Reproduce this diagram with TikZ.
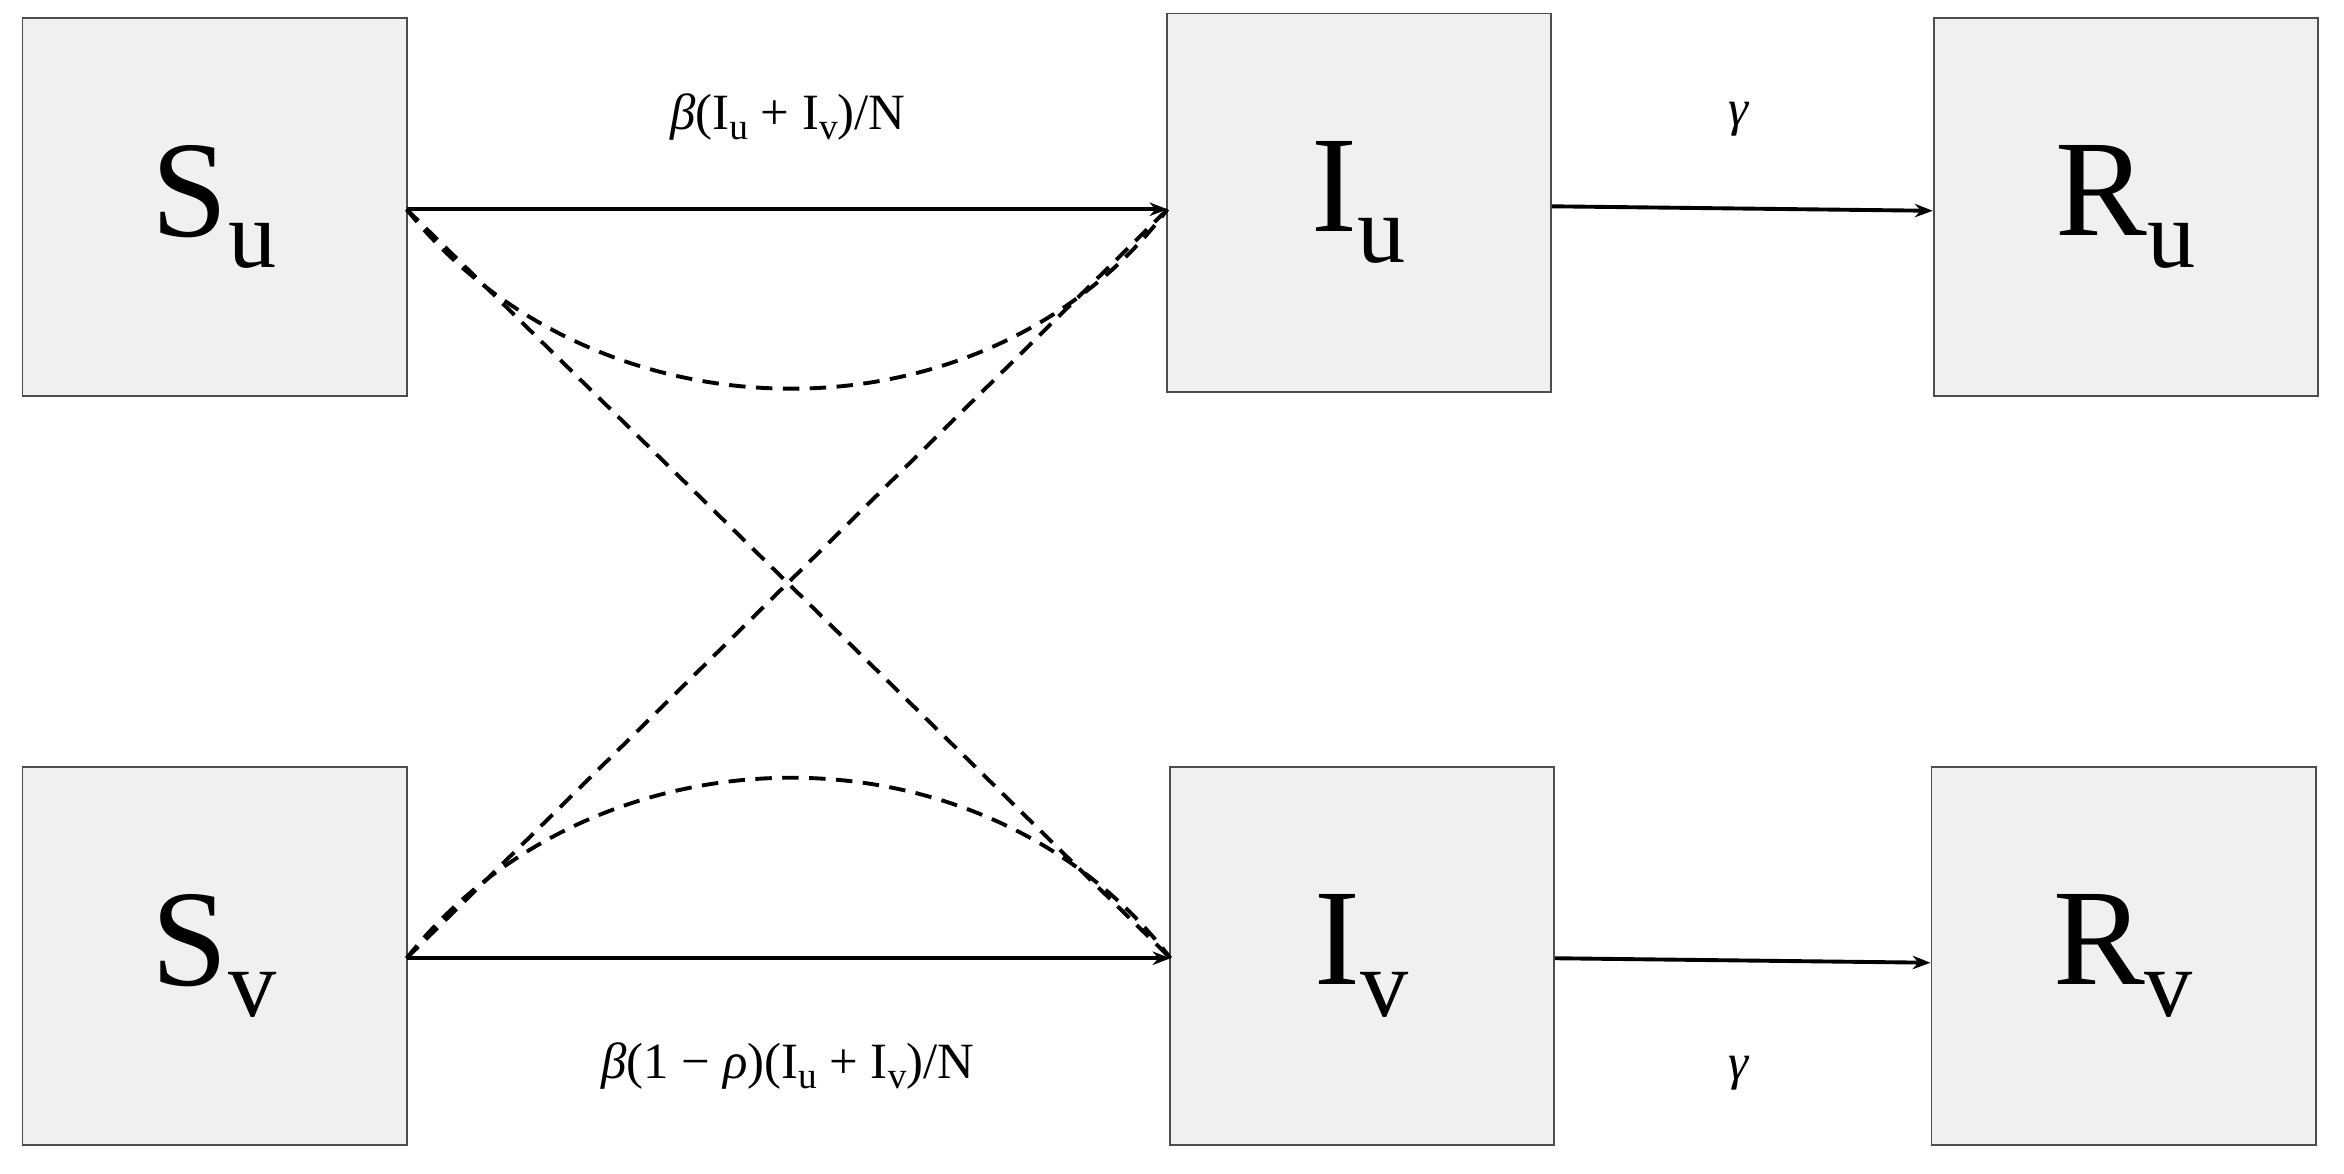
\documentclass[tikz,border=0pt]{standalone}
\usepackage{fontspec}
\setmainfont{Liberation Serif}
\usetikzlibrary{arrows.meta}
\newcommand{\sbx}[1]{\raisebox{-0.2em}{\fontsize{25}{28}\selectfont #1}}
\begin{document}
\begin{tikzpicture}[x=1pt,y=-1pt,
 box/.style={draw=black!70,line width=1.2pt,fill=black!6,minimum width=257pt,minimum height=253pt,inner sep=0pt,font=\fontsize{92}{100}\selectfont},
 lab/.style={font=\fontsize{34}{38}\selectfont},
 arr/.style={line width=2.6pt,-{Stealth[length=12pt,width=9pt]}},
 dsh/.style={line width=2.6pt,dash pattern=on 11pt off 7pt}]
\useasboundingbox (0,0) rectangle (1568,785);
\node[box] (su) at (143.5,138.5) {S\textsubscript{u}};
\node[box] (iu) at (909,135.5) {I\textsubscript{u}};
\node[box] (ru) at (1422,138.5) {R\textsubscript{u}};
\node[box] (sv) at (143.5,639.5) {S\textsubscript{v}};
\node[box] (iv) at (911,639.5) {I\textsubscript{v}};
\node[box] (rv) at (1420.5,639.5) {R\textsubscript{v}};
\coordinate (a) at (272,140);
\coordinate (b) at (781,140);
\coordinate (c) at (272,641);
\coordinate (d) at (783,641);
\draw[arr] (a) -- (b);
\draw[arr] (c) -- (d);
\draw[arr] (iu.east |- 0,138) -- (ru.west |- 0,141);
\draw[arr] (iv.east |- 0,641) -- (rv.west |- 0,644);
\draw[dsh] (a) .. controls (400,300) and (660,300) .. (b);
\draw[dsh] (c) .. controls (400,480) and (660,480) .. (d);
\draw[dsh] (a) -- (d);
\draw[dsh] (c) -- (b);
\node[lab] (l1) at (527,78) {\textit{β}(I\sbx{u} + I\sbx{v})/N};
\node[lab] (l2) at (527,713) {\textit{β}(1 − \textit{ρ})(I\sbx{u} + I\sbx{v})/N};
\node[lab] (g1) at (1163,80) {\textit{γ}};
\node[lab] (g2) at (1163,718) {\textit{γ}};
\end{tikzpicture}
\end{document}
